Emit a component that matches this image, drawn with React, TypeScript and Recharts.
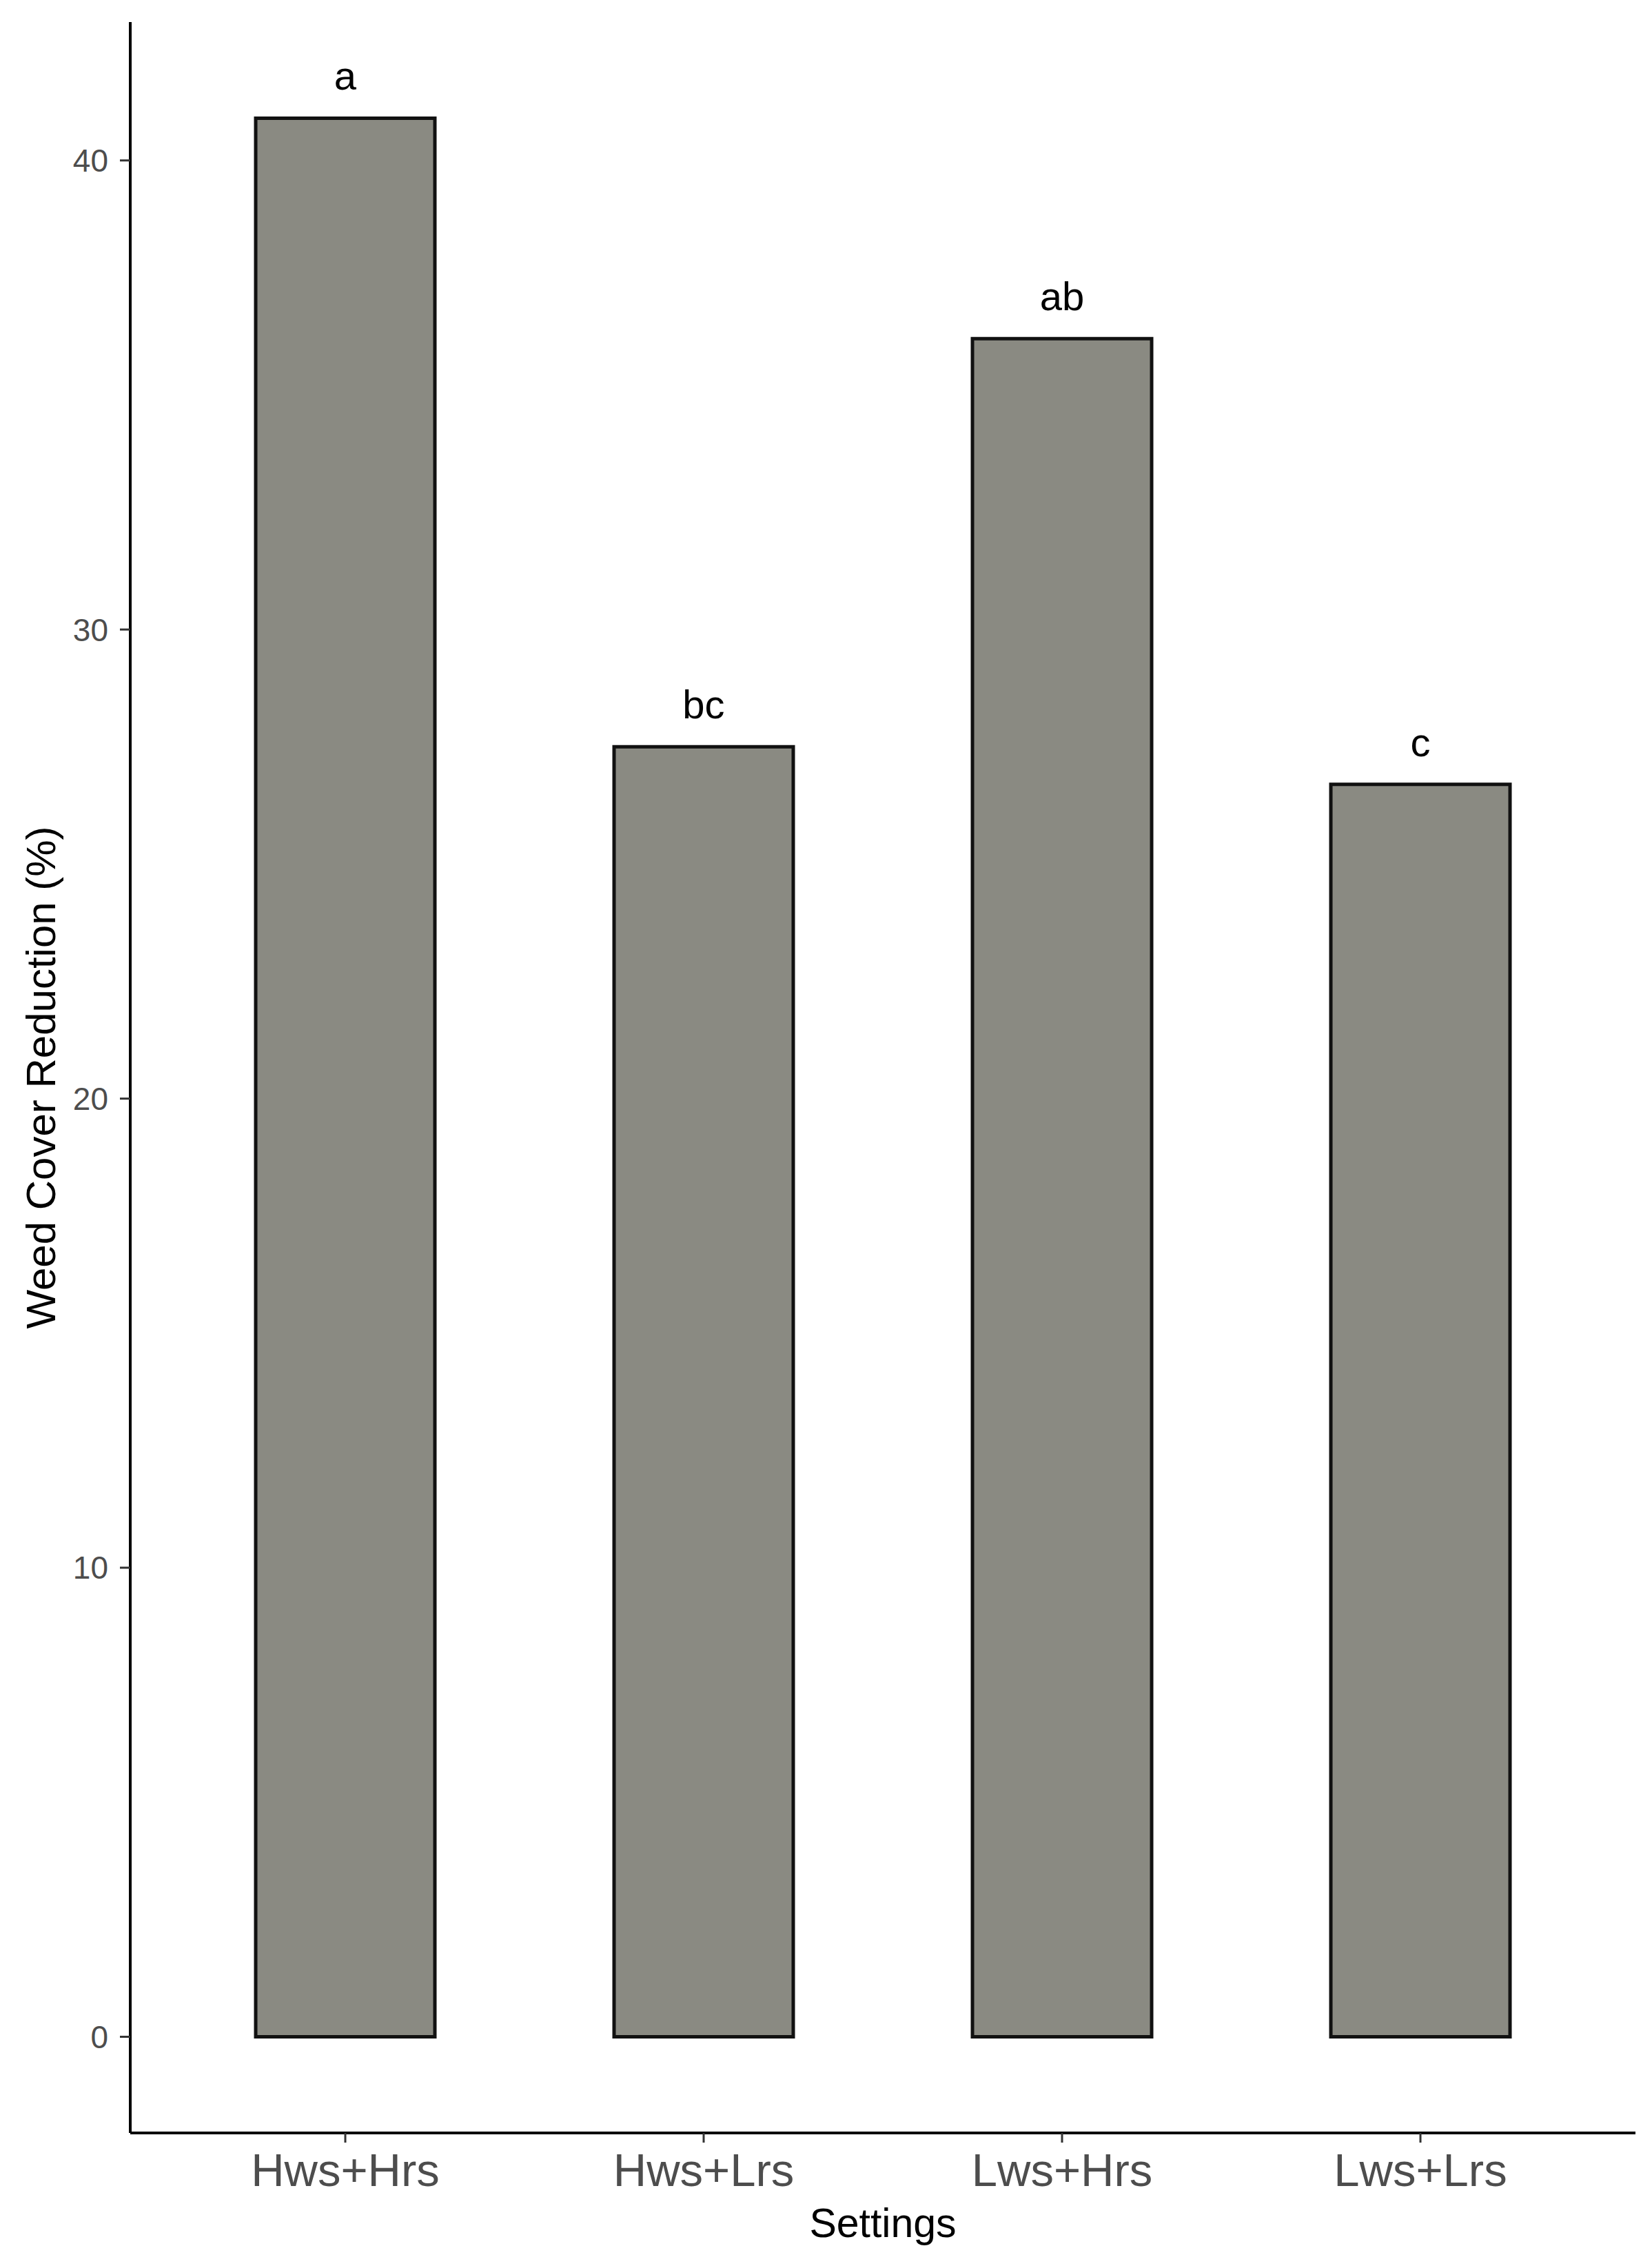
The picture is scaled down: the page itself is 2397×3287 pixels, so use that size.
import { Bar, BarChart, LabelList, XAxis, YAxis } from "recharts";

const settings = ["Hws+Hrs", "Hws+Lrs", "Lws+Hrs", "Lws+Lrs"];
const reduction = [40.9, 27.5, 36.2, 26.7];
const groupLetters = ["a", "bc", "ab", "c"];
const yTicks = [0, 10, 20, 30, 40];

const data = settings.map((s, i) => ({
  setting: s,
  value: reduction[i],
  letter: groupLetters[i],
}));

const font = '"Liberation Sans", Arial, sans-serif';

function YTitle(props: any) {
  const vb = props.viewBox || { x: 0, y: 0, width: 0, height: 0 };
  const x = vb.x + 80;
  const y = vb.y + vb.height / 2;
  return (
    <text
      x={x}
      y={y}
      transform={`rotate(-90, ${x}, ${y})`}
      textAnchor="middle"
      fontSize={60}
      fill="#000"
      fontFamily={font}
    >
      Weed Cover Reduction (%)
    </text>
  );
}

export default function App() {
  return (
    <div
      style={{
        position: "absolute",
        left: 0,
        top: 0,
        width: 2397,
        height: 3287,
        background: "#fff",
        fontFamily: font,
      }}
    >
      <BarChart
        width={2397}
        height={3287}
        data={data}
        margin={{ top: 32, right: 24, bottom: 0, left: 0 }}
        barCategoryGap="25%"
      >
        <XAxis
          dataKey="setting"
          padding={{ left: 52, right: 52 }}
          height={193}
          tickSize={14}
          tickMargin={15}
          axisLine={{ stroke: "#000", strokeWidth: 4 }}
          tickLine={{ stroke: "#333", strokeWidth: 3 }}
          tick={{ fontSize: 67, fill: "#4d4d4d" }}
          label={{
            value: "Settings",
            position: "insideBottom",
            offset: 42,
            fontSize: 59,
            fill: "#000",
          }}
        />
        <YAxis
          type="number"
          domain={[-2.05, 42.95]}
          ticks={yTicks}
          width={189}
          tickSize={15}
          tickMargin={17}
          axisLine={{ stroke: "#000", strokeWidth: 4 }}
          tickLine={{ stroke: "#333", strokeWidth: 3 }}
          tick={{ fontSize: 46, fill: "#4d4d4d" }}
          label={{ content: YTitle }}
        />
        <Bar
          dataKey="value"
          fill="#8a8a82"
          stroke="#111"
          strokeWidth={5}
          isAnimationActive={false}
        >
          <LabelList
            dataKey="letter"
            position="top"
            offset={41}
            fontSize={58}
            fill="#000"
          />
        </Bar>
      </BarChart>
    </div>
  );
}
